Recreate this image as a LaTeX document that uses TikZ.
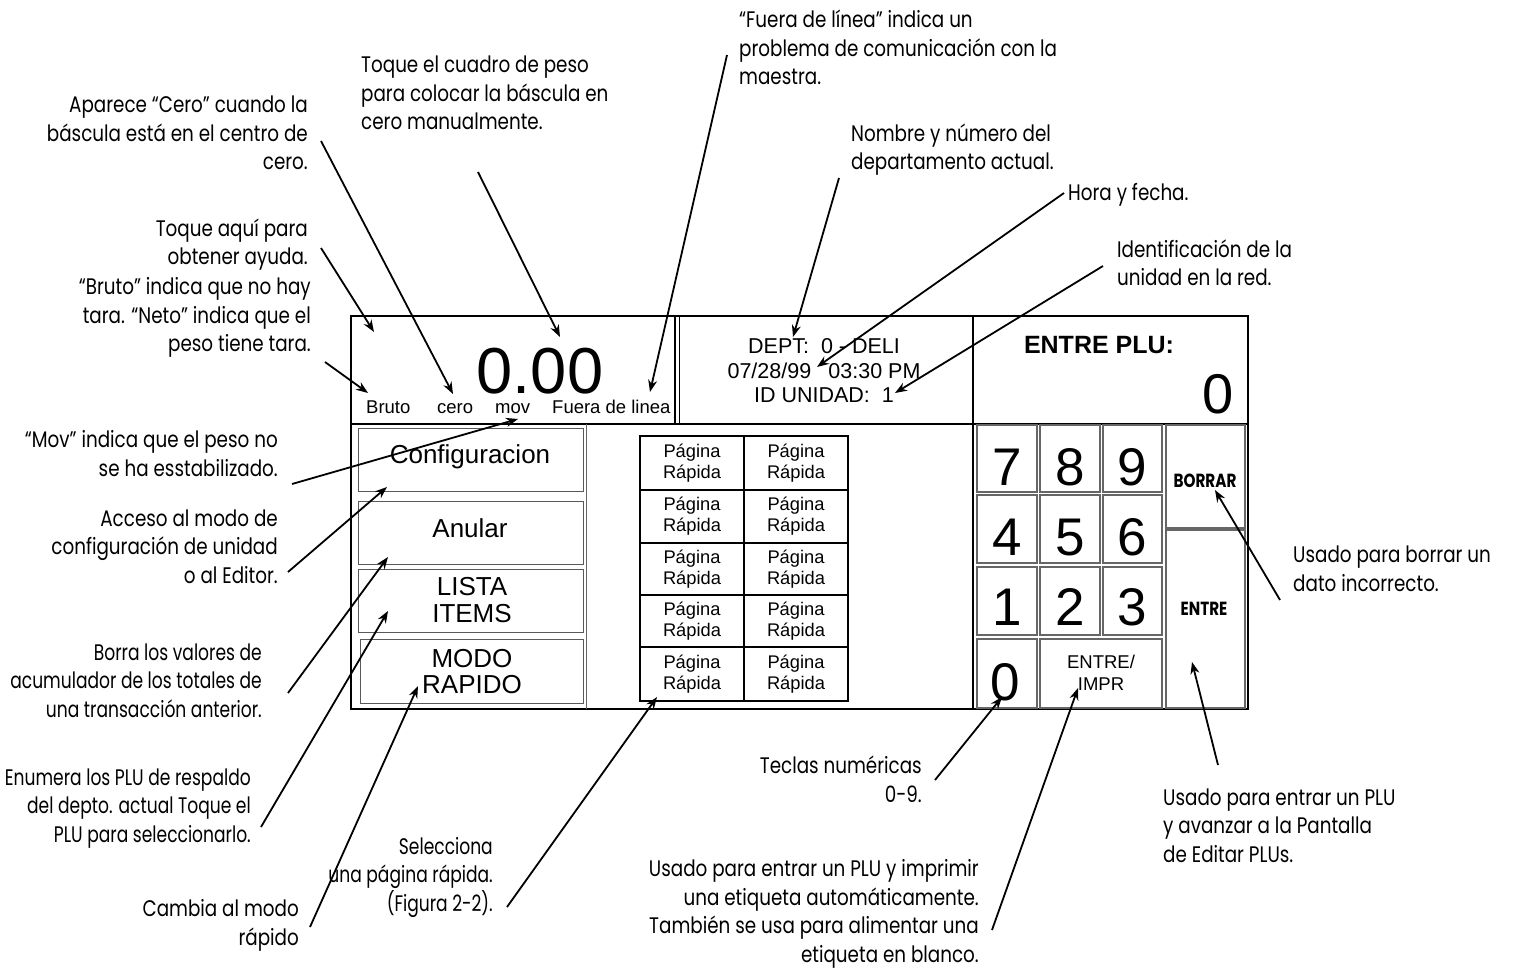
\documentclass[tikz,border=0pt]{standalone}
\usepackage{fontspec}
\setmainfont{Liberation Sans}
\newfontfamily\annfont[FakeStretch=0.815]{Poppins}
\newfontfamily\annfontn[FakeStretch=0.76]{Poppins}
\newfontfamily\keyfnt[FakeStretch=0.8]{Poppins}
\usetikzlibrary{arrows.meta}
\tikzset{
  ann/.style={font=\annfont\fontsize{22.5}{28.5}\selectfont, inner sep=0pt, align=right, anchor=base east},
  annn/.style={font=\annfontn\fontsize{22.5}{28.5}\selectfont, inner sep=0pt, align=right, anchor=base east},
  annl/.style={font=\annfont\fontsize{22.5}{28.5}\selectfont, inner sep=0pt, align=left, anchor=base west},
  lead/.style={line width=1.8pt, -{Stealth[length=12pt,width=9pt]}},
  scr/.style={inner sep=0pt, anchor=base},
  btn/.style={draw=black!65, line width=1pt, inner sep=0pt},
  pcell/.style={draw=black, line width=2.6pt, inner sep=0pt, minimum width=104, align=center, font=\fontsize{18.3}{21}\selectfont},
  keybox/.style={draw=black!60, line width=1.5pt, inner sep=0pt},
  digit/.style={inner sep=0pt, anchor=base, font=\fontsize{53}{53}\selectfont},
  btxt/.style={inner sep=0pt, anchor=base, font=\fontsize{26}{27}\selectfont},
  ktxt/.style={inner sep=0pt, anchor=base, font=\keyfnt\bfseries\fontsize{19}{20}\selectfont},
}
\begin{document}
\begin{tikzpicture}[x=1pt,y=-1pt]
\fill[white] (0,0) rectangle (1513,968);
\useasboundingbox (0,0) rectangle (1513,968);

% ---------- screen frame ----------
\draw[line width=2pt] (351,316) rectangle (1248,709);
\draw[line width=2pt] (351,424) -- (1248,424);
\draw[line width=2pt] (675,316) -- (675,424);
\draw[line width=1pt] (679,316) -- (679,424);
\draw[line width=2pt] (973,316) -- (973,709);
\draw[line width=0.8pt, black!60] (586,424) -- (586,709);

% ---------- top row texts ----------
\node[scr, font=\fontsize{65}{65}\selectfont] (wt) at (540,393) {0.00};
\node[scr, anchor=base west, font=\fontsize{18.5}{20}\selectfont] (bruto) at (366,413) {Bruto};
\node[scr, anchor=base west, font=\fontsize{18.5}{20}\selectfont] (cero) at (437,413) {cero};
\node[scr, anchor=base west, font=\fontsize{18.5}{20}\selectfont] (mov) at (495,413) {mov};
\node[scr, anchor=base west, font=\fontsize{18.5}{20}\selectfont] (fuera) at (552,413) {Fuera de linea};

\node[scr, font=\fontsize{21.5}{24}\selectfont] (dept1) at (824,353) {DEPT:\ \ 0 - DELI};
\node[scr, font=\fontsize{21.5}{24}\selectfont] (dept2) at (824,378) {07/28/99\hspace{0.8em}03:30 PM};
\node[scr, font=\fontsize{21.5}{24}\selectfont] (dept3) at (824,402) {ID UNIDAD:\ \ 1};

\node[scr, font=\bfseries\fontsize{25}{26}\selectfont] (plu) at (1099,353) {ENTRE PLU:};
\node[scr, anchor=base east, font=\fontsize{56}{56}\selectfont] (pluval) at (1234,413) {0};

% ---------- left buttons ----------
\node[btn, minimum width=225, minimum height=63] (bcfg) at (470.5,459.5) {};
\node[btn, minimum width=225, minimum height=63] (banu) at (470.5,532.5) {};
\node[btn, minimum width=225, minimum height=63] (blis) at (470.5,600.5) {};
\node[btn, minimum width=223, minimum height=64] (bmod) at (471.5,671) {};
\node[btxt] (tcfg) at (470,463) {Configuracion};
\node[btxt] (tanu) at (470,537) {Anular};
\node[btxt] (tlis1) at (472,595) {LISTA};
\node[btxt] (tlis2) at (472,622) {ITEMS};
\node[btxt] (tmod1) at (472,667) {MODO};
\node[btxt] (tmod2) at (472,693) {RAPIDO};

% ---------- Pagina Rapida grid ----------
\node[pcell, minimum height=54] (p11) at (692,463) {Página\\Rápida};
\node[pcell, minimum height=54] (p12) at (796,463) {Página\\Rápida};
\node[pcell, minimum height=53] (p21) at (692,516.5) {Página\\Rápida};
\node[pcell, minimum height=53] (p22) at (796,516.5) {Página\\Rápida};
\node[pcell, minimum height=52] (p31) at (692,569) {Página\\Rápida};
\node[pcell, minimum height=52] (p32) at (796,569) {Página\\Rápida};
\node[pcell, minimum height=52] (p41) at (692,621) {Página\\Rápida};
\node[pcell, minimum height=52] (p42) at (796,621) {Página\\Rápida};
\node[pcell, minimum height=54] (p51) at (692,674) {Página\\Rápida};
\node[pcell, minimum height=54] (p52) at (796,674) {Página\\Rápida};

% ---------- keypad ----------
\node[keybox, minimum width=60, minimum height=67] (k7) at (1007,458.5) {};
\node[keybox, minimum width=60, minimum height=67] (k8) at (1070,458.5) {};
\node[keybox, minimum width=59, minimum height=67] (k9) at (1132.5,458.5) {};
\node[keybox, minimum width=60, minimum height=68] (k4) at (1007,529) {};
\node[keybox, minimum width=60, minimum height=68] (k5) at (1070,529) {};
\node[keybox, minimum width=59, minimum height=68] (k6) at (1132.5,529) {};
\node[keybox, minimum width=60, minimum height=68] (k1) at (1007,601) {};
\node[keybox, minimum width=60, minimum height=68] (k2) at (1070,601) {};
\node[keybox, minimum width=59, minimum height=68] (k3) at (1132.5,601) {};
\node[keybox, minimum width=60, minimum height=69] (k0) at (1007,673.5) {};
\node[keybox, minimum width=122, minimum height=69] (kei) at (1101,673.5) {};
\node[keybox, minimum width=79, minimum height=103] (kb) at (1205.5,476.5) {};
\node[keybox, minimum width=79, minimum height=178] (ke) at (1205.5,619) {};

\node[digit] (d7) at (1007,485) {7};
\node[digit] (d8) at (1070,485) {8};
\node[digit] (d9) at (1132.5,485) {9};
\node[digit] (d4) at (1007,555) {4};
\node[digit] (d5) at (1070,555) {5};
\node[digit] (d6) at (1132.5,555) {6};
\node[digit] (d1) at (1007,625) {1};
\node[digit] (d2) at (1070,625) {2};
\node[digit] (d3) at (1132.5,625) {3};
\node[digit] (d0) at (1005,700) {0};
\node[scr, font=\fontsize{18.5}{20}\selectfont] (tei1) at (1101,668) {ENTRE/};
\node[scr, font=\fontsize{18.5}{20}\selectfont] (tei2) at (1101,690) {IMPR};
\node[ktxt] (tb) at (1205,487) {BORRAR};
\node[ktxt] (te) at (1204,615) {ENTRE};

% ---------- annotations (anchor = baseline of last line) ----------
\node[ann] (nA) at (308,170) {Aparece “Cero” cuando la\\báscula está en el centro de\\cero.};
\node[ann] (nB) at (308,265) {Toque aquí para\\obtener ayuda.};
\node[ann] (nC) at (311,352) {“Bruto” indica que no hay\\tara. “Neto” indica que el\\peso tiene tara.};
\node[annl] (nD) at (361,130) {Toque el cuadro de peso\\para colocar la báscula en\\cero manualmente.};
\node[annl] (nE) at (739,85) {“Fuera de línea” indica un\\problema de comunicación con la\\maestra.};
\node[annl] (nF) at (851,170) {Nombre y número del\\departamento actual.};
\node[annl] (nG) at (1068,201) {Hora y fecha.};
\node[annl] (nH) at (1117,286) {Identificación de la\\unidad en la red.};
\node[ann] (nI) at (278,476) {“Mov” indica que el peso no\\se ha esstabilizado.};
\node[ann] (nJ) at (278,583) {Acceso al modo de\\configuración de unidad\\o al Editor.};
\node[annn] (nK) at (262,717) {Borra los valores de\\acumulador de los totales de\\una transacción anterior.};
\node[annn] (nL) at (251,842) {Enumera los PLU de respaldo\\del depto. actual Toque el\\PLU para seleccionarlo.};
\node[ann] (nM) at (299,945) {Cambia al modo\\rápido};
\node[annn] (nN) at (493,911) {Selecciona\\una página rápida.\\(Figura 2-2).};
\node[ann] (nO) at (922,802) {Teclas numéricas\\0-9.};
\node[ann] (nP) at (979,962) {Usado para entrar un PLU y imprimir\\una etiqueta automáticamente.\\También se usa para alimentar una\\etiqueta en blanco.};
\node[annl] (nQ) at (1293,591) {Usado para borrar un\\dato incorrecto.};
\node[annl] (nR) at (1163,862) {Usado para entrar un PLU\\y avanzar a la Pantalla\\de Editar PLUs.};

% ---------- leader coordinates ----------
\coordinate (sA) at (321,141);  \coordinate (eA) at (453,394);
\coordinate (sB) at (321,248);  \coordinate (eB) at (374,332);
\coordinate (sC) at (325,362);  \coordinate (eC) at (368,393);
\coordinate (sD) at (478,172);  \coordinate (eD) at (560,337);
\coordinate (sE) at (727,55);   \coordinate (eE) at (650,392);
\coordinate (sF) at (839,178);  \coordinate (eF) at (793,337);
\coordinate (sG) at (1064,193); \coordinate (eG) at (817,367);
\coordinate (sH) at (1103,266); \coordinate (eH) at (895,393);
\coordinate (sI) at (292,484);  \coordinate (eI) at (518,419);
\coordinate (sJ) at (288,572);  \coordinate (eJ) at (387,487);
\coordinate (sK) at (288,693);  \coordinate (eK) at (388,557);
\coordinate (sL) at (261,827);  \coordinate (eL) at (388,611);
\coordinate (sM) at (310,927);  \coordinate (eM) at (418,686);
\coordinate (sN) at (507,907);  \coordinate (eN) at (657,697);
\coordinate (sO) at (935,780);  \coordinate (eO) at (1002,697);
\coordinate (sP) at (992,930);  \coordinate (eP) at (1078,688);
\coordinate (sQ) at (1280,600); \coordinate (eQ) at (1215,490);
\coordinate (sR) at (1218,765); \coordinate (eR) at (1192,662);

\foreach \k in {A,B,C,D,E,F,G,H,I,J,K,L,M,N,O,P,Q,R}
  \draw[lead] (s\k) -- (e\k);
\end{tikzpicture}
\end{document}
